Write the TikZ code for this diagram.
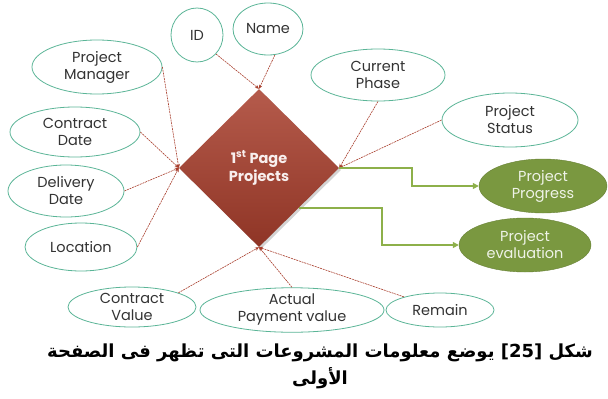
\documentclass[tikz,border=0pt]{standalone}
\usepackage{fontspec}
\setmainfont{Poppins}
\newfontfamily\arabicfont[Script=Arabic]{DejaVu Sans}
\TeXXeTstate=1
\usepackage{xcolor}
\usepackage{tikz}
\usetikzlibrary{positioning, arrows.meta, shapes.geometric, shadows}
\definecolor{rim}{HTML}{5BB597}
\definecolor{brick}{HTML}{A83E2C}
\definecolor{olive}{HTML}{7A9840}
\definecolor{leaf}{HTML}{8DB04A}
\definecolor{ink}{HTML}{333333}

\begin{document}
\begin{tikzpicture}[x=1pt, y=-1pt,
  every node/.style={font=\fontsize{14.5}{17}\selectfont, align=center, text=ink},
  attr/.style={ellipse, draw=rim, thick, fill=white, inner sep=0pt},
  goal/.style={ellipse, draw=olive!85!black, fill=olive, inner sep=0pt,
               text=olive!12},
  entity/.style={diamond, aspect=1, inner sep=0pt, minimum width=160pt,
                 minimum height=158pt, top color=brick!85!white,
                 bottom color=brick!85!black, text=white!92!brick,
                 font=\fontsize{14.5}{18}\selectfont\bfseries,
                 drop shadow={opacity=0.35, shadow xshift=2pt, shadow yshift=-2pt}},
  arr/.style={-{Stealth[length=4pt, width=3.5pt]}, brick, line width=0.6pt,
              dash pattern=on 2pt off 0.8pt},
  flow/.style={-{Triangle[length=6pt, width=6pt]}, leaf, line width=2.2pt}
]
\useasboundingbox (0,0) rectangle (608,399);

\node[entity] (proj) at (259,168) {1\textsuperscript{st} Page\\ Projects};

\node[attr, minimum width=52pt, minimum height=54pt] (id)   at (197,35)  {ID};
\node[attr, minimum width=70pt, minimum height=52pt] (name) at (268,29)  {Name};
\node[attr, minimum width=130pt, minimum height=54pt] (pm)  at (97,67)   {Project\\ Manager};
\node[attr, minimum width=130pt, minimum height=50pt] (cd)  at (75,132)  {Contract\\ Date};
\node[attr, minimum width=116pt, minimum height=52pt] (dd)  at (66,191)  {Delivery\\ Date};
\node[attr, minimum width=112pt, minimum height=48pt] (loc) at (81,247)  {Location};
\node[attr, minimum width=128pt, minimum height=40pt] (cv)  at (132,307) {Contract\\ Value};
\node[attr, minimum width=184pt, minimum height=44pt] (apv) at (292,310) {Actual\\ Payment value};
\node[attr, minimum width=108pt, minimum height=34pt] (rem) at (440,310) {Remain};
\node[attr, minimum width=134pt, minimum height=52pt] (cp)  at (378,75)  {Current\\ Phase};
\node[attr, minimum width=136pt, minimum height=54pt] (ps)  at (510,120) {Project\\ Status};

\node[goal, minimum width=128pt, minimum height=54pt] (prog) at (543,186) {Project\\ Progress};
\node[goal, minimum width=132pt, minimum height=54pt] (eval) at (525,245) {Project\\ evaluation};

\draw[arr] (id.-45)   -- (proj.north);
\draw[arr] (name.-75) -- (proj.north);
\draw[arr] (pm.east)  -- (proj.west);
\draw[arr] (cd.east)  -- (proj.west);
\draw[arr] (dd.east)  -- (proj.west);
\draw[arr] (loc.east) -- (proj.west);
\draw[arr] (cv.17)    -- (proj.south);
\draw[arr] (apv.north) -- (proj.south);
\draw[arr] (rem.160)  -- (proj.south);
\draw[arr] (cp.south) -- (proj.east);
\draw[arr] (ps.west)  -- (proj.east);

\draw[flow] (proj.east) -- ++(73,0) |- (prog.west);
\draw[flow] (proj.south east) -- ++(83,0) |- (eval.west);

\node[font=\arabicfont\bfseries\fontsize{18}{27}\selectfont, text=black] (cap) at (320,366)
  {\beginR شكل \beginL[25]\endL{} يوضع معلومات المشروعات التى تظهر فى الصفحة\endR\\
   \beginR الأولى\endR};
\end{tikzpicture}
\end{document}
